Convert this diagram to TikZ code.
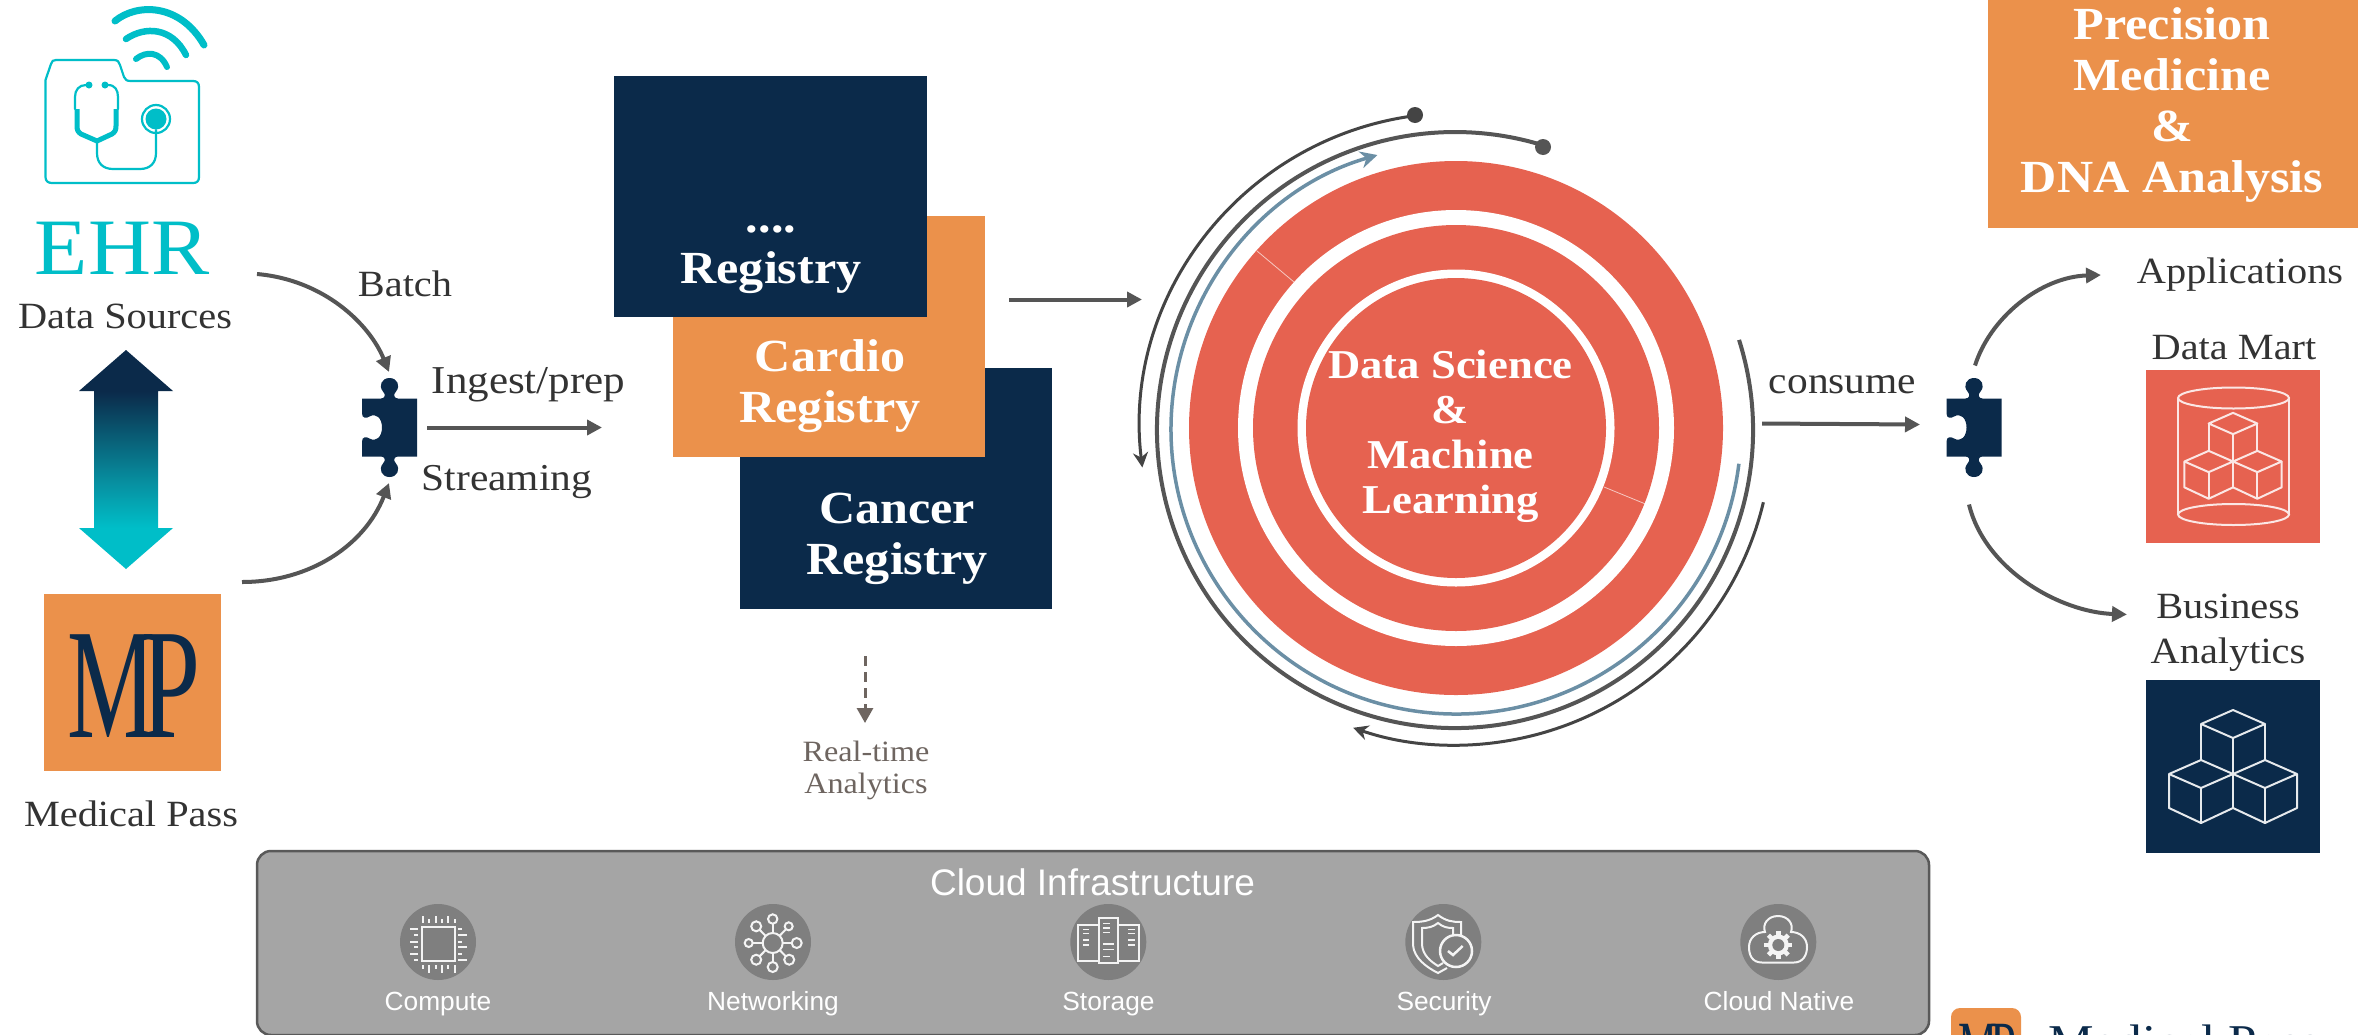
\documentclass[tikz,border=0pt]{standalone}
\usepackage{fontspec}
\usepackage{graphicx}
\setmainfont[FakeStretch=1.09]{Liberation Serif}
\newfontfamily\arialfont{Liberation Sans}
\usetikzlibrary{arrows.meta,calc}
\definecolor{navy}{HTML}{0B2A4A}
\definecolor{orangebox}{HTML}{EB914B}
\definecolor{coral}{HTML}{E66250}
\definecolor{tealc}{HTML}{00BEC8}
\definecolor{midteal}{HTML}{078FA0}
\definecolor{flowgray}{HTML}{555555}
\definecolor{arcdark}{HTML}{444444}
\definecolor{arcblue}{HTML}{6B8FA5}
\definecolor{textgray}{HTML}{333333}
\definecolor{softbrown}{HTML}{6E6560}
\definecolor{cloudfill}{HTML}{A5A5A5}
\definecolor{cloudline}{HTML}{595959}
\definecolor{iconbg}{HTML}{7F7F7F}
\definecolor{iconline}{HTML}{F4F4F4}
\pgfdeclareverticalshading{arrowgrad}{100bp}{color(0bp)=(tealc);color(34.4bp)=(tealc);color(44.9bp)=(midteal);color(65.6bp)=(navy);color(100bp)=(navy)}
\newcommand{\mpmark}{\fontsize{157}{157}\selectfont\scalebox{.58}[1]{M}\kern-14pt\scalebox{.62}[1]{P}}
\tikzset{
  x=1pt,y=-1pt,
  txt/.style={inner sep=0pt,outer sep=0pt,anchor=base,align=center,yshift=-1.5pt,text=textgray,font=\fontsize{37}{45}\selectfont},
  boldtxt/.style={inner sep=0pt,outer sep=0pt,anchor=base,align=center,yshift=-1.5pt,text=white,font=\fontsize{#1}{51}\selectfont\bfseries},
  boldtxt/.default=46,
  sanstxt/.style={inner sep=0pt,outer sep=0pt,anchor=base,text=white,font=\arialfont\fontsize{26.3}{30}\selectfont},
  blockbox/.style={rectangle,inner sep=0pt,outer sep=0pt,anchor=north west},
  flow/.style={draw=flowgray,line width=4pt,-{Triangle[length=15pt,width=15pt]}},
  disc/.style={circle,inner sep=0pt,outer sep=0pt,fill=#1},
  iconround/.style={circle,inner sep=0pt,outer sep=0pt,fill=iconbg,minimum size=76pt},
  iconstroke/.style={draw=iconline,line width=2pt,fill=none},
  cubeline/.style={draw=#1,line width=2pt,line join=round},
  tealline/.style={draw=tealc,line width=2.2pt,line cap=round,line join=round},
  piece/.pic={
    \fill[navy] (-27.5,-29) -- (-8.5,-29) .. controls (-4.5,-29) and (-3.5,-33) .. (-6.5,-36)
      .. controls (-11.5,-42) and (-7.5,-49.5) .. (0,-49.5) .. controls (7.5,-49.5) and (11.5,-42) .. (6.5,-36)
      .. controls (3.5,-33) and (4.5,-29) .. (8.5,-29) -- (27.5,-29) -- (27.5,29) -- (8.5,29)
      .. controls (4.5,29) and (3.5,33) .. (6.5,36) .. controls (11.5,42) and (7.5,49.5) .. (0,49.5)
      .. controls (-7.5,49.5) and (-11.5,42) .. (-6.5,36) .. controls (-3.5,33) and (-4.5,29) .. (-8.5,29)
      -- (-27.5,29) -- (-27.5,14) .. controls (-27.5,9) and (-23,9) .. (-20,11)
      .. controls (-13,15) and (-7.5,9) .. (-7.5,0) .. controls (-7.5,-9) and (-13,-15) .. (-20,-11)
      .. controls (-23,-9) and (-27.5,-9) .. (-27.5,-14) -- cycle;
  },
}
\newcommand{\threecubes}[4]{%
  \begin{scope}[shift={(#1,#2)},scale=#3]
    \draw[cubeline=#4] (-32,-50) -- (0,-64) -- (32,-50) -- (0,-36) -- cycle;
    \draw[cubeline=#4] (0,-36) -- (0,34);
    \draw[cubeline=#4] (-32,-50) -- (-32,-14);
    \draw[cubeline=#4] (32,-50) -- (32,-14);
    \draw[cubeline=#4] (-32,-14) -- (32,14) -- (64,0) -- (32,-14) -- (-32,14) -- (-64,0) -- cycle;
    \draw[cubeline=#4] (-64,0) -- (-64,34) -- (-32,49) -- (0,34) -- (32,49) -- (64,34) -- (64,0);
    \draw[cubeline=#4] (-32,14) -- (-32,49);
    \draw[cubeline=#4] (32,14) -- (32,49);
  \end{scope}}
\begin{document}
\begin{tikzpicture}
\useasboundingbox (0,0) rectangle (2358,1034);
\fill[white] (0,0) rectangle (2358,1034);

% --- EHR icon
\draw[draw=tealc,line width=7pt,line cap=round] (115,21) .. controls (137,3) and (180,3) .. (204,45);
\draw[draw=tealc,line width=6.5pt,line cap=round] (126,39) .. controls (145,26) and (172,27) .. (186,55);
\draw[draw=tealc,line width=6pt,line cap=round] (136,59) .. controls (146,51) and (160,51) .. (167,67);
\draw[tealline] (45.5,80) -- (51,64) .. controls (52,61) and (53,60) .. (56,60) -- (114,60)
  .. controls (118,60) and (119,62) .. (120,65) -- (124,77) .. controls (125,80) and (127,81) .. (131,81)
  -- (193,81) .. controls (197,81) and (199,83) .. (199,87) -- (199,177) .. controls (199,181) and (197,183) .. (193,183)
  -- (52,183) .. controls (48,183) and (45.5,181) .. (45.5,177) -- cycle;
\draw[tealline] (86,85) .. controls (79,85) and (75,90) .. (75,97) -- (75,109);
\draw[tealline] (108,85) .. controls (115,85) and (118,90) .. (118,97) -- (118,109);
\fill[tealc] (89,85) circle (3.5);
\fill[tealc] (105,85) circle (3.5);
\draw[draw=tealc,line width=5pt,line join=round] (77,109) -- (77,126) .. controls (77,130) and (78,132) .. (81,134) -- (97,141) -- (112,134) .. controls (115,132) and (116,130) .. (116,126) -- (116,109);
\draw[tealline] (97,141) -- (97,153) .. controls (97,163) and (103,169) .. (113,169) -- (140,169) .. controls (150,169) and (156,163) .. (156,153) -- (156,130);
\draw[tealline] (156,119) circle (14);
\fill[tealc] (156,119) circle (10.5);

% --- left column
\node[txt,text=tealc,yshift=1.5pt,font=\fontsize{80}{80}\selectfont] (ehr) at (122,274) {EHR};
\node[txt] (datasources) at (125,327) {Data Sources};
\shade[shading=arrowgrad] (126,350) -- (173,391) -- (158,391) -- (158,528) -- (173,528) -- (126,569) -- (79,528) -- (94,528) -- (94,391) -- (79,391) -- cycle;
\node[blockbox,fill=orangebox,minimum width=177pt,minimum height=177pt] (mpbox) at (44,594) {};
\node[inner sep=0pt,anchor=base west,text=navy] (mplogo) at (67,737) {\mpmark};
\node[txt] (medicalpass) at (131,825) {Medical Pass};

% --- puzzle 1 and labels
\pic at (389.5,427.5) {piece};
\coordinate (puzzleA) at (389.5,427.5);
\coordinate (ehrout) at (257,274);
\coordinate (batchin) at (389,372);
\coordinate (mpout) at (242,582);
\coordinate (streamin) at (389,483);
\coordinate (ingestout) at (427,427.5);
\coordinate (ingestin) at (602,427.5);
\draw[flow] (ehrout) .. controls (325,280) and (370,325) .. (batchin);
\draw[flow] (mpout) .. controls (310,582) and (365,545) .. (streamin);
\draw[flow] (ingestout) -- (ingestin);
\node[txt] (batch) at (405,295) {Batch};
\node[txt,font=\fontsize{39.5}{45}\selectfont] (ingest) at (528.5,392) {Ingest/prep};
\node[txt,font=\fontsize{38}{45}\selectfont] (streaming) at (507,489) {Streaming};

% --- registries
\node[blockbox,fill=navy,minimum width=312pt,minimum height=241pt] (cancerbox) at (740,368) {};
\node[blockbox,fill=orangebox,minimum width=312pt,minimum height=240.5pt] (cardiobox) at (673,216) {};
\node[blockbox,fill=navy,minimum width=313pt,minimum height=240.5pt] (otherbox) at (614,76) {};
\node[boldtxt] (other) at (771,281.5) {....\\Registry};
\node[boldtxt] (cardio) at (830,420.5) {Cardio\\Registry};
\node[boldtxt] (cancer) at (897,573) {Cancer\\Registry};
\coordinate (rtstart) at (865,656);
\coordinate (rtend) at (865,723);
\draw[draw=softbrown,line width=3pt,dash pattern=on 10pt off 6pt,-{Triangle[length=15pt,width=16pt]}] (rtstart) -- (rtend);
\node[txt,text=softbrown,font=\fontsize{29.5}{32.5}\selectfont] (realtime) at (866,792) {Real-time\\Analytics};

% --- arrow into the circle
\coordinate (regout) at (1009,299.5);
\coordinate (circin) at (1142,299.5);
\draw[flow] (regout) -- (circin);

% --- circle
\coordinate (cc) at (1456,428);
\node[disc=coral,minimum size=534pt] (ringouter) at (cc) {};
\node[disc=white,minimum size=436pt] (gapouter) at (cc) {};
\node[disc=coral,minimum size=406pt] (ringmid) at (cc) {};
\node[disc=white,minimum size=317pt] (gapinner) at (cc) {};
\node[disc=coral,minimum size=300pt] (core) at (cc) {};
\draw[draw=white,draw opacity=.65,line width=0.8pt] (1257,251) -- (1294,282);
\draw[draw=white,draw opacity=.65,line width=0.8pt] (1604,487) -- (1645.5,504);
\node[boldtxt=41,font=\fontsize{41}{45}\selectfont\bfseries] (dsml) at (1450.5,512) {Data Science\\\&\\Machine\\Learning};

% --- arcs
\coordinate (darkdot) at (1543,147);
\coordinate (thindot) at (1415,115);
\draw[draw=arcblue,line width=3.5pt,-{Stealth[length=17pt,width=17pt]}] (1456,429) ++(7:285) arc[start angle=7,end angle=254,radius=285];
\draw[draw=flowgray,line width=4pt] (1455,430) ++(-17.6:298) arc[start angle=-17.6,end angle=287.3,radius=298];
\draw[draw=arcdark,line width=3pt,-{Stealth[length=15pt,width=15pt]}] (1456,429) ++(13.4:316) arc[start angle=13.4,end angle=109,radius=316];
\draw[draw=arcdark,line width=3pt,-{Stealth[length=15pt,width=15pt]}] (1456,429) ++(262.5:316) arc[start angle=262.5,end angle=173,radius=316];
\fill[flowgray] (darkdot) circle (8);
\fill[arcdark] (thindot) circle (8);

% --- consume
\coordinate (consout) at (1762,423.5);
\coordinate (consin) at (1920,424.5);
\draw[flow] (consout) -- (consin);
\node[txt,font=\fontsize{38}{45}\selectfont] (consume) at (1842.5,392) {consume};
\begin{scope}[shift={(1974,427.5)},xscale=-1]
  \pic {piece};
\end{scope}
\coordinate (puzzleB) at (1974,427.5);
\coordinate (appout) at (1975,365.5);
\coordinate (appin) at (2101,275);
\coordinate (bizout) at (1969,504.5);
\coordinate (bizin) at (2127,614.5);
\draw[flow] (appout) .. controls (1990,318) and (2040,277) .. (appin);
\draw[flow] (bizout) .. controls (1985,570) and (2060,612) .. (bizin);

% --- top right box
\node[blockbox,fill=orangebox,minimum width=370pt,minimum height=228pt] (precisionbox) at (1988,0) {};
\node[boldtxt,yshift=1.5pt] (precision) at (2172,192) {Precision\\Medicine\\\&\\DNA Analysis};

% --- right column
\node[txt] (applications) at (2240,282) {Applications};
\node[txt] (datamart) at (2234,357.5) {Data Mart};
\node[blockbox,fill=coral,minimum width=174pt,minimum height=173pt] (martbox) at (2146,370) {};
\draw[draw=white!85!coral,line width=2pt] (2233.5,398) ellipse[x radius=55.5,y radius=10.5];
\draw[draw=white!85!coral,line width=2pt] (2233.5,514.5) ellipse[x radius=55.5,y radius=10.5];
\draw[draw=white!85!coral,line width=2pt] (2178,398) -- (2178,514.5);
\draw[draw=white!85!coral,line width=2pt] (2289,398) -- (2289,514.5);
\threecubes{2233}{461.5}{0.76}{white!85!coral}
\node[txt,yshift=1.5pt] (business) at (2228,663) {Business\\Analytics};
\node[blockbox,fill=navy,minimum width=174pt,minimum height=173pt] (bizbox) at (2146,680) {};
\threecubes{2233}{774}{1}{white!90!navy}

% --- cloud panel
\node[blockbox,fill=cloudfill,draw=cloudline,line width=2.5pt,rounded corners=14pt,minimum width=1672pt,minimum height=184pt] (cloudbox) at (257,851) {};
\node[sanstxt,font=\arialfont\fontsize{37}{40}\selectfont] (cloudtitle) at (1092.5,895) {Cloud Infrastructure};

\node[iconround] (icompute) at (438,942) {};
\draw[iconstroke,line width=2.5pt] (422,927) rectangle (455,961);
\foreach \p/\l in {423/916,429/919,436/916,442/919,448/916,455/919} \draw[iconstroke] (\p,\l) -- (\p,923);
\foreach \p/\l in {423/969,429/973,436/969,442/973,448/969,455/973} \draw[iconstroke] (\p,\l) -- (\p,965);
\foreach \p/\l in {929/410,935/414,942/410,947/414,954/410,960/414} \draw[iconstroke] (\l,\p) -- (418,\p);
\foreach \p/\l in {929/462,935/467,942/462,947/467,954/462,960/467} \draw[iconstroke] (\l,\p) -- (458,\p);

\node[iconround] (inetwork) at (773,942) {};
\begin{scope}[shift={(772.7,943)}]
  \foreach \a/\b/\r in {0/-24/4.7,-16.5/-16.7/5,16/-16.7/4,24/0/5,-24/0/4,-16.5/16.7/5,16.5/16.7/5,0/24/5}{
    \draw[iconstroke] (0,0) -- ($(0,0)!{1-\r/(veclen(\a,\b))}!(\a,\b)$);
    \draw[iconstroke] (\a,\b) circle (\r);
  }
  \fill[iconbg] (0,0) circle (10);
  \draw[iconstroke] (0,0) circle (10);
\end{scope}

\node[iconround] (istorage) at (1108.3,942) {};
\draw[iconstroke,line width=1.6pt] (1078,925) rectangle (1099,961);
\draw[iconstroke,line width=1.6pt] (1118,925) rectangle (1139,961);
\draw[iconstroke] (1099,918) rectangle (1118,963);
\foreach \y in {923.5,928,932.5} \draw[iconstroke,line width=1.6pt] (1103,\y) -- (1110,\y);
\foreach \y in {944,949.5} \draw[iconstroke,line width=1.6pt] (1103,\y) -- (1114,\y);
\draw[iconstroke,line width=1.6pt] (1103,956.5) -- (1110,956.5);
\foreach \y in {929.5,933.5,940,945} {
  \draw[iconstroke,line width=1.6pt] (1083,\y) -- (1089,\y);
  \draw[iconstroke,line width=1.6pt] (1128,\y) -- (1135,\y);
}

\node[iconround] (isecurity) at (1443.3,942) {};
\draw[iconstroke] (1461,936) -- (1461,922) .. controls (1452,922) and (1446,921) .. (1438,915) .. controls (1430,921) and (1422,922) .. (1413,922) -- (1413,945) .. controls (1414,958) and (1426,967) .. (1438,973) -- (1447,968);
\draw[iconstroke] (1453,935) -- (1453,928) .. controls (1447,928) and (1443,927) .. (1438,923) .. controls (1433,927) and (1428,928) .. (1422,928) -- (1422,945) .. controls (1423,955) and (1430,961) .. (1438,966) -- (1443,963);
\draw[iconstroke,line width=2.5pt] (1456,951) circle (16);
\draw[iconstroke,line width=2.5pt] (1448,951) -- (1453,955) -- (1462.7,946);

\node[iconround] (icloud) at (1778.3,942) {};
\draw[iconstroke] (1762,962.5) .. controls (1752,962.5) and (1749,955) .. (1749,947) .. controls (1749,938) and (1756,932) .. (1765,932) .. controls (1762,924) and (1768,916) .. (1778,916) .. controls (1788,916) and (1794,924) .. (1791,932) .. controls (1800,932) and (1807,938) .. (1807,947) .. controls (1807,955) and (1803,962.5) .. (1794,962.5) -- cycle;
\fill[iconline] (1778.3,945) circle (10.5);
\foreach \a in {0,45,...,315} \draw[draw=iconline,line width=4.5pt] (1778.3,945) ++(\a:9) -- ++(\a:5);
\fill[iconbg] (1778.3,945) circle (6);

\node[sanstxt] (lcompute) at (438,1010) {Compute};
\node[sanstxt] (lnetwork) at (773,1010) {Networking};
\node[sanstxt] (lstorage) at (1108.5,1010) {Storage};
\node[sanstxt] (lsecurity) at (1444,1010) {Security};
\node[sanstxt] (lcloud) at (1779,1010) {Cloud Native};

% --- bottom-right mark
\node[blockbox,fill=orangebox,rounded corners=9pt,minimum width=70pt,minimum height=60pt] (footbox) at (1951,1008) {};
\node[inner sep=0pt,anchor=base west,text=navy] (footmark) at (1958,1069) {\scalebox{.44}{\mpmark}};
\node[inner sep=0pt,anchor=base west,text=navy,font=\fontsize{47}{47}\selectfont] (footname) at (2048,1057) {Medical Pass};
\end{tikzpicture}
\end{document}
